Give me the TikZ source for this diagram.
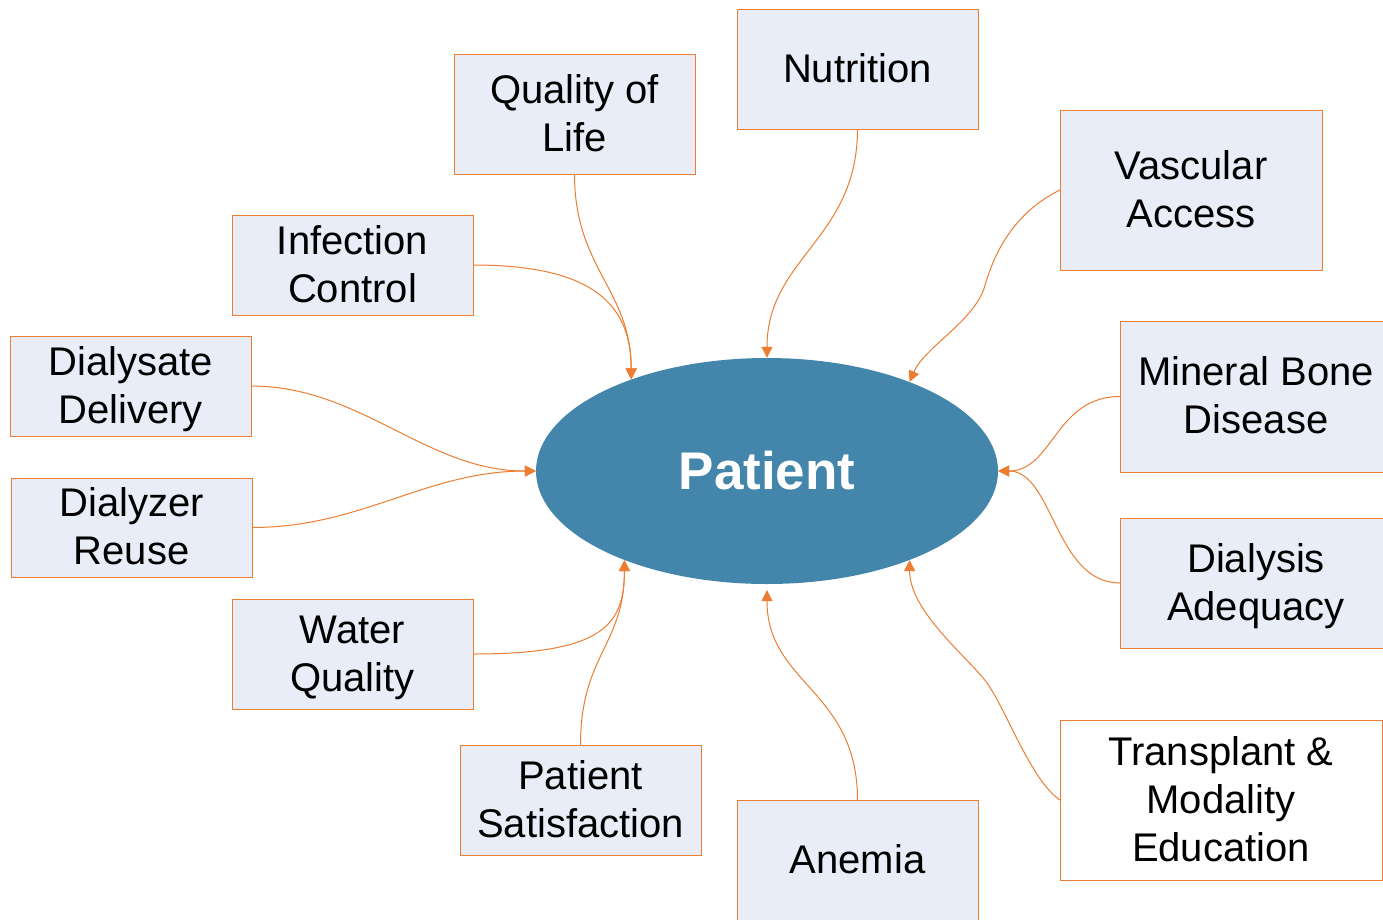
\documentclass[tikz,border=0pt]{standalone}
\usepackage{fontspec}
\setmainfont{Liberation Sans}
\usetikzlibrary{arrows.meta,shapes.geometric,calc}
\definecolor{conn}{HTML}{ED7D31}
\definecolor{boxfill}{HTML}{E8EDF7}
\definecolor{patfill}{HTML}{4486AB}
\newcommand\fl{\rule{0pt}{35pt}}
\tikzset{
  topic/.style={draw=conn, line width=0.9pt, fill=boxfill, inner sep=0pt, outer sep=0pt,
    align=center, font=\fontsize{40}{48}\selectfont,
    execute at end node={\rule[-9pt]{0pt}{9pt}}},
  whitetopic/.style={topic, fill=white},
  link/.style={draw=conn, line width=1pt, -{Triangle[length=11pt,width=11pt]}},
}
\begin{document}
\begin{tikzpicture}[x=1pt,y=-1pt]
\useasboundingbox[fill=white] (0,0) rectangle (1383,919);

\node[ellipse, fill=patfill, minimum width=462pt, minimum height=226pt, inner sep=0pt,
  text=white, font=\fontsize{53}{60}\selectfont\bfseries] (pat) at (767,471) {Patient};

\node[topic, minimum width=241pt, minimum height=120pt] (ql) at (574.5,114) {\fl Quality of\\Life};
\node[topic, minimum width=241pt, minimum height=120pt] (nut) at (857.5,69) {\fl Nutrition};
\node[topic, minimum width=262pt, minimum height=160pt] (va) at (1191,190) {\fl Vascular\\Access};
\node[topic, minimum width=272pt, minimum height=151pt] (mb) at (1256,396.5) {\fl Mineral Bone\\Disease};
\node[topic, minimum width=272pt, minimum height=130pt] (da) at (1256,583) {\fl Dialysis\\Adequacy};
\node[whitetopic, minimum width=322pt, minimum height=160pt] (tr) at (1221,800) {\fl Transplant \&\\Modality\\Education};
\node[topic, minimum width=241pt, minimum height=120pt] (an) at (857.5,860) {\fl Anemia};
\node[topic, minimum width=241pt, minimum height=110pt] (ps) at (580.5,800) {\fl Patient\\Satisfaction};
\node[topic, minimum width=241pt, minimum height=110pt] (wq) at (352.5,654) {\fl Water\\Quality};
\node[topic, minimum width=241pt, minimum height=99pt] (dr) at (131.5,527.5) {\fl Dialyzer\\Reuse};
\node[topic, minimum width=241pt, minimum height=100pt] (dd) at (130.5,386) {\fl Dialysate\\Delivery};
\node[topic, minimum width=241pt, minimum height=100pt] (ic) at (352.5,265) {\fl Infection\\Control};

\draw[link] (ql.south) .. controls +(0,95) and +(0,-90) .. (pat.146.8);
\draw[link] (ic.east) .. controls +(120,0) and +(0,-75) .. (pat.146.8);
\draw[link] (nut.south) .. controls +(0,110) and +(0,-100) .. (pat.90);
\draw[link] (va.west) .. controls +(-45,22) and +(10,-35) .. ($(va.west)!0.5!(pat.32.1)$)
  .. controls +(-10,35) and +(15,-35) .. (pat.32.1);
\draw[link] (mb.west) .. controls +(-65,0) and +(55,0) .. (pat.0);
\draw[link] (da.west) .. controls +(-65,0) and +(55,0) .. (pat.0);
\draw[link] (tr.west) .. controls +(-30,-20) and +(20,25) .. ($(tr.west)!0.5!(pat.-32.4)$)
  .. controls +(-20,-25) and +(0,50) .. (pat.-32.4);
\draw[link, shorten >=6pt] (an.north) .. controls +(0,-110) and +(0,100) .. (pat.270);
\draw[link] (ps.north) .. controls +(0,-90) and +(0,85) .. (pat.212.7);
\draw[link] (wq.east) .. controls +(130,0) and +(0,65) .. (pat.212.7);
\draw[link] (dr.east) .. controls +(110,0) and +(-110,0) .. (pat.180);
\draw[link] (dd.east) .. controls +(110,0) and +(-110,0) .. (pat.180);
\end{tikzpicture}
\end{document}
